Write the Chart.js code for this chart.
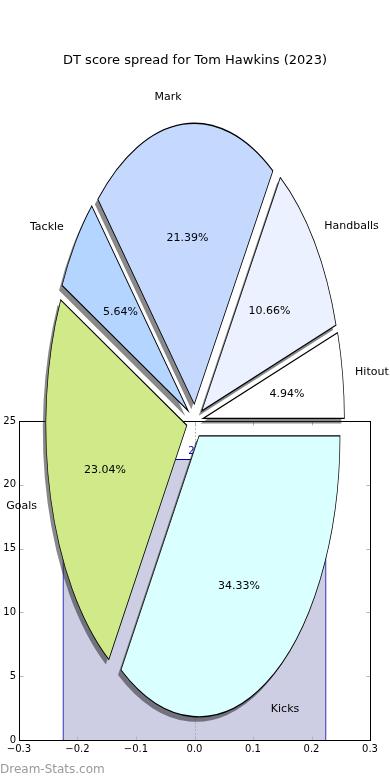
<!DOCTYPE html>
<html>
<head>
<meta charset="utf-8">
<script src="https://cdn.jsdelivr.net/npm/chart.js@4.4.1/dist/chart.umd.min.js"></script>
<style>
  body { margin: 0; background: #fff; }
  #wrap { position: relative; width: 390px; height: 780px; }
  #wrap canvas { position: absolute; left: 0; top: 0; }
</style>
</head>
<body>
<div id="wrap">
  <canvas id="barChart" width="390" height="780"></canvas>
  <canvas id="pieChart" width="390" height="780"></canvas>
</div>
<script>
// Pie data, counter-clockwise from 3 o'clock (matplotlib order)
const categories = ['Hitout', 'Handballs', 'Mark', 'Tackle', 'Goals', 'Kicks'];
const points = [63, 136, 273, 72, 294, 438];
const colours = ['#ffffff', '#ebf1ff', '#c5d9ff', '#b3d5ff', '#d0ea8a', '#d9ffff'];

// Bar behind the pie (games played)
const barX = [0];
const barValues = [22];

// Axis ticks
const xTicks = [-0.3, -0.2, -0.1, 0, 0.1, 0.2, 0.3];
const yTicks = [0, 5, 10, 15, 20, 25];

const BAR_WIDTH = 0.45;
const EXPLODE = 0.06;
const LABEL_DIST = 1.1;
const PCT_DIST = 0.6;
const PIE_RADIUS = 141;
const PIE_STRETCH = 281 / 141;

Chart.defaults.font.family = '"DejaVu Sans", sans-serif';
Chart.defaults.color = '#000';

function fmtX(v) {
    if (Math.abs(v) < 1e-9) return '0.0';
    return v.toFixed(1).replace('-', '\u2212');
}

// frame, inward tick marks, dotted zero line, bar label
const framePlugin = {
    id: 'frame',
    afterDatasetsDraw(chart) {
        const { ctx, chartArea: a, scales: { x, y } } = chart;
        const l = Math.round(a.left) + 0.5, r = Math.round(a.right) + 0.5;
        const t = Math.round(a.top) + 0.5, b = Math.round(a.bottom) + 0.5;
        ctx.save();

        // dotted line at x = 0
        const zx = Math.round(x.getPixelForValue(0)) + 0.5;
        ctx.strokeStyle = '#a8a8a8';
        ctx.lineWidth = 1;
        ctx.setLineDash([1.5, 2]);
        ctx.beginPath();
        ctx.moveTo(zx, t);
        ctx.lineTo(zx, b);
        ctx.stroke();
        ctx.setLineDash([]);

        // value label on top of the bar
        ctx.fillStyle = '#0000cc';
        ctx.font = '10px "DejaVu Sans"';
        ctx.textAlign = 'center';
        ctx.textBaseline = 'bottom';
        barX.forEach((bx, i) => {
            ctx.fillText(String(barValues[i]), x.getPixelForValue(bx), y.getPixelForValue(barValues[i]) - 3);
        });

        // tick marks pointing inward
        ctx.strokeStyle = '#b4b4b4';
        ctx.beginPath();
        x.ticks.forEach(tk => {
            const px = Math.round(x.getPixelForValue(tk.value)) + 0.5;
            ctx.moveTo(px, b); ctx.lineTo(px, b - 4);
            ctx.moveTo(px, t); ctx.lineTo(px, t + 4);
        });
        y.ticks.forEach(tk => {
            const py = Math.round(y.getPixelForValue(tk.value)) + 0.5;
            ctx.moveTo(l, py); ctx.lineTo(l + 4, py);
            ctx.moveTo(r, py); ctx.lineTo(r - 4, py);
        });
        ctx.stroke();

        // frame
        ctx.strokeStyle = '#000';
        ctx.strokeRect(l, t, r - l, b - t);
        ctx.restore();
    }
};

const barChart = new Chart(document.getElementById('barChart'), {
    type: 'bar',
    data: {
        datasets: [{
            data: barX.map((bx, i) => ({ x: bx, y: barValues[i] })),
            backgroundColor: '#cdcde3',
            borderColor: '#0000aa',
            borderWidth: 1,
            borderSkipped: 'bottom',
            barThickness: (c) => {
                const s = c.chart.scales.x;
                return s.getPixelForValue(BAR_WIDTH / 2) - s.getPixelForValue(-BAR_WIDTH / 2);
            }
        }]
    },
    options: {
        responsive: false,
        animation: false,
        devicePixelRatio: 1,
        layout: { padding: { left: 0, right: 20, top: 421, bottom: 0 } },
        plugins: { legend: { display: false }, tooltip: { enabled: false } },
        scales: {
            x: {
                type: 'linear',
                offset: false,
                min: -0.3,
                max: 0.3,
                afterBuildTicks: s => { s.ticks = xTicks.map(v => ({ value: v })); },
                afterFit: s => { s.height = 40; },
                grid: { display: false, drawTicks: false },
                border: { display: false },
                ticks: {
                    padding: 3,
                    autoSkip: false,
                    maxRotation: 0,
                    font: { size: 10 },
                    callback: v => fmtX(v)
                }
            },
            y: {
                min: 0,
                max: 25,
                afterBuildTicks: s => { s.ticks = yTicks.map(v => ({ value: v })); },
                afterFit: s => { s.width = 19; },
                grid: { display: false, drawTicks: false },
                border: { display: false },
                ticks: { padding: 3, font: { size: 10 } }
            }
        }
    },
    plugins: [framePlugin]
});

// stretch the pie into an ellipse, explode wedges, add shadows and labels
const ellipsePlugin = {
    id: 'ellipse',
    beforeDatasetsDraw(chart) {
        const ctx = chart.ctx;
        const meta = chart.getDatasetMeta(0);
        const cx = meta.data[0].x, cy = meta.data[0].y;
        meta.data.forEach(arc => {
            if (arc._exploded) return;
            const draw = arc.draw;
            arc.draw = function (c, area) {
                const mid = (this.startAngle + this.endAngle) / 2;
                const d = EXPLODE * this.outerRadius;
                c.save();
                c.translate(Math.cos(mid) * d, Math.sin(mid) * d);
                draw.call(this, c, area);
                c.restore();
            };
            arc._exploded = true;
        });
        ctx.save();
        ctx.translate(cx, cy);
        ctx.scale(1, PIE_STRETCH);
        ctx.translate(-cx, -cy);

        // shadow pass under every wedge
        ctx.save();
        ctx.shadowColor = 'rgba(40,40,45,0.55)';
        ctx.shadowOffsetX = -3;
        ctx.shadowOffsetY = 5;
        ctx.shadowBlur = 0;
        meta.data.forEach(arc => {
            const o = arc.options;
            arc.options = Object.assign({}, o, { borderWidth: 0 });
            arc.draw(ctx, chart.chartArea);
            arc.options = o;
        });
        ctx.restore();
    },
    afterDatasetsDraw(chart) {
        const ctx = chart.ctx;
        ctx.restore();
        const meta = chart.getDatasetMeta(0);
        const total = points.reduce((s, v) => s + v, 0);
        ctx.save();
        ctx.fillStyle = '#000';
        ctx.font = '11px "DejaVu Sans"';
        ctx.textBaseline = 'middle';
        meta.data.forEach((arc, j) => {
            const i = order[j];
            const mid = (arc.startAngle + arc.endAngle) / 2;
            const cs = Math.cos(mid), sn = Math.sin(mid) * PIE_STRETCH;
            const r = arc.outerRadius;
            ctx.textAlign = cs > 0 ? 'left' : 'right';
            ctx.fillText(categories[i], arc.x + (EXPLODE + LABEL_DIST) * r * cs - (cs > 0 ? 1.5 : 0),
                arc.y + (EXPLODE + LABEL_DIST) * r * sn + 1);
            ctx.textAlign = 'center';
            ctx.fillText((points[i] / total * 100).toFixed(2) + '%', arc.x + (EXPLODE + PCT_DIST) * r * cs,
                arc.y + (EXPLODE + PCT_DIST) * r * sn + 1.5);
        });

        // title
        ctx.font = '13px "DejaVu Sans"';
        ctx.textAlign = 'center';
        ctx.fillText('DT score spread for Tom Hawkins (2023)', 195, 61);

        // watermark
        ctx.font = '12px "DejaVu Sans"';
        ctx.fillStyle = '#9a9a9a';
        ctx.textAlign = 'left';
        ctx.fillText('Dream-Stats.com', 0, 770);
        ctx.restore();
    }
};

// matplotlib goes counter-clockwise, Chart.js clockwise, so reverse
const order = categories.map((_, i) => categories.length - 1 - i);

const pieChart = new Chart(document.getElementById('pieChart'), {
    type: 'pie',
    data: {
        labels: order.map(i => categories[i]),
        datasets: [{
            data: order.map(i => points[i]),
            backgroundColor: order.map(i => colours[i]),
            borderColor: '#000',
            borderWidth: 0.7,
            borderJoinStyle: 'miter'
        }]
    },
    options: {
        responsive: false,
        animation: false,
        devicePixelRatio: 1,
        rotation: 90,
        radius: PIE_RADIUS,
        layout: { padding: { top: 62 } },
        plugins: { legend: { display: false }, tooltip: { enabled: false } }
    },
    plugins: [ellipsePlugin]
});
</script>
</body>
</html>
